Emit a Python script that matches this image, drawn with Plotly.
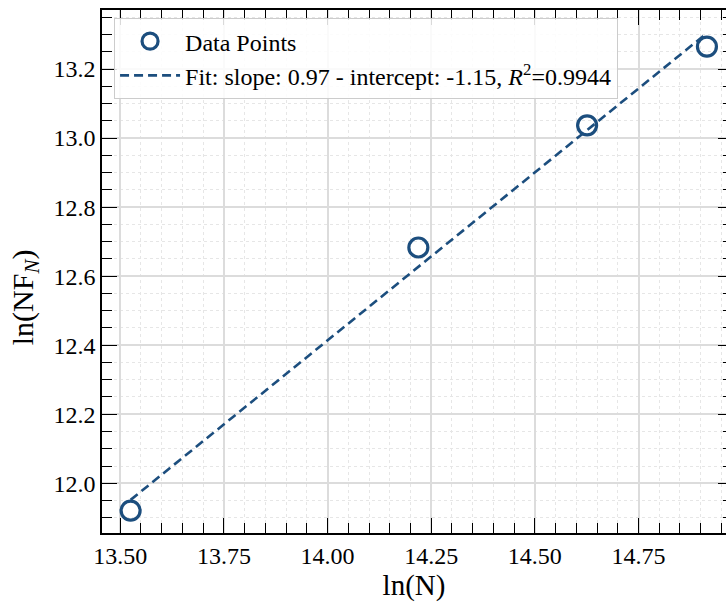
import numpy as np
import plotly.graph_objects as go

# ---- data ----
ln_N = [13.525, 14.219, 14.626, 14.915]
ln_NF = [11.921, 12.683, 13.037, 13.265]
x_ticks = [13.50, 13.75, 14.00, 14.25, 14.50, 14.75]
y_ticks = [12.0, 12.2, 12.4, 12.6, 12.8, 13.0, 13.2]
point_label = "Data Points"
fit_label = "Fit: slope: 0.97 - intercept: -1.15, <i>R</i><sup>2</sup>=0.9944"
x_title = "ln(N)"
y_title = "ln(NF<sub><i>N</i></sub>)"

# least-squares fit line through the data points
slope, intercept = np.polyfit(ln_N, ln_NF, 1)
fit_x = [min(ln_N), max(ln_N)]
fit_y = [slope * v + intercept for v in fit_x]

COLOR = "#1c4e7e"
FONT = "Liberation Serif, Times New Roman, serif"
x_range = [13.456, 14.961]
y_range = [11.856, 13.371]

fig = go.Figure()
fig.add_trace(go.Scatter(
    x=ln_N, y=ln_NF, mode="markers", name=point_label,
    marker=dict(symbol="circle-open", size=19, color=COLOR,
                line=dict(width=3.2, color=COLOR)),
))
fig.add_trace(go.Scatter(
    x=fit_x, y=fit_y, mode="lines", name=fit_label,
    line=dict(color=COLOR, width=2.6, dash="9px,5px"),
))
# invisible trace to hold the right-hand tick axis
fig.add_trace(go.Scatter(x=[x_range[0]], y=[y_range[0]], yaxis="y2", mode="markers",
                         marker=dict(opacity=0), showlegend=False, hoverinfo="skip"))

minor_common = dict(dtick=0.05, ticks="inside", ticklen=10, tickcolor="black", tickwidth=1.2,
                    showgrid=True, gridcolor="#e6e6e6", griddash="dot", gridwidth=1)

fig.update_layout(
    width=726, height=604,
    margin=dict(l=102, r=0, t=10, b=71),
    paper_bgcolor="white", plot_bgcolor="white",
    font=dict(family=FONT, color="black", size=24),
    xaxis=dict(
        range=x_range, mirror="ticks",
        tickvals=x_ticks, tickformat=".2f",
        minor=minor_common,
        title=dict(text=x_title, font=dict(family=FONT, size=29), standoff=2),
        ticklabelstandoff=0,
    ),
    yaxis=dict(
        range=y_range,
        tickvals=y_ticks, tickformat=".1f",
        minor=minor_common,
        ticklabelstandoff=0,
    ),
    yaxis2=dict(
        overlaying="y", side="right", anchor="x", range=y_range,
        showline=False, showgrid=False, zeroline=False, showticklabels=False,
        tickvals=y_ticks, ticks="inside", ticklen=8, tickwidth=1.4, tickcolor="black",
        minor=dict(dtick=0.05, ticks="inside", ticklen=3, tickcolor="black", tickwidth=1.2,
                   showgrid=False),
    ),
    legend=dict(
        x=0.019, y=0.985, xanchor="left", yanchor="top",
        bgcolor="rgba(255,255,255,0.85)", bordercolor="#cccccc", borderwidth=1.2,
        font=dict(family=FONT, size=24, color="black"),
        itemwidth=60, tracegroupgap=0,
    ),
    annotations=[dict(
        text=y_title, textangle=-90, xref="paper", yref="paper",
        x=-0.124, y=0.45, xanchor="center", yanchor="middle", showarrow=False,
        font=dict(family=FONT, size=30, color="black"),
    )],
    showlegend=True,
)

for upd in (fig.update_xaxes, fig.update_yaxes):
    upd(showline=True, linecolor="black", linewidth=1.6,
        ticks="inside", tickcolor="black", tickwidth=1.4, ticklen=15,
        showgrid=True, gridcolor="#dcdcdc", gridwidth=1.5, zeroline=False,
        tickfont=dict(family=FONT, size=24, color="black"),
        selector=dict(overlaying=None) if False else None)

# restore the right-hand tick-only axis settings
fig.update_layout(yaxis2=dict(showline=False, showgrid=False, ticklen=8,
                              showticklabels=False))

fig.write_html("out.html")
